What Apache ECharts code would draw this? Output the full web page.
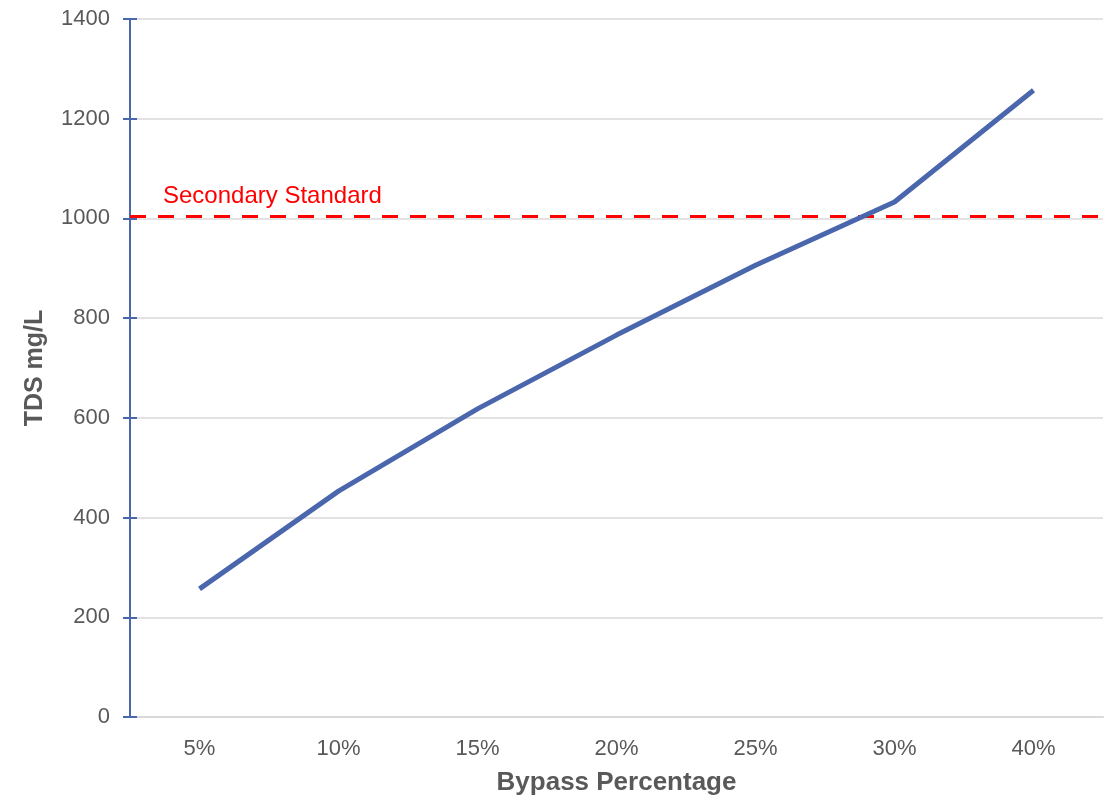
<!DOCTYPE html>
<html>
<head>
<meta charset="utf-8">
<script src="https://cdn.jsdelivr.net/npm/echarts@6/dist/echarts.min.js"></script>
<style>html,body{margin:0;padding:0;background:#fff;}#c{width:1113px;height:796px;}</style>
</head>
<body>
<div id="c"></div>
<script>
var categories = ['5%', '10%', '15%', '20%', '25%', '30%', '40%'];
var tdsValues = [257, 453, 618, 766, 906, 1033, 1257];
var standardValue = 1004;
var standardLabel = 'Secondary Standard';
var yTicks = [0, 200, 400, 600, 800, 1000, 1200, 1400];

var chart = echarts.init(document.getElementById('c'));
var gray = '#595959';
var ff = '"Liberation Sans", Arial';
chart.setOption({
  animation: false,
  backgroundColor: '#ffffff',
  grid: {left: 130, right: 10, top: 19, bottom: 79, containLabel: false, outerBoundsMode: 'none'},
  xAxis: [{
    type: 'category',
    data: categories,
    boundaryGap: true,
    name: 'Bypass Percentage',
    nameLocation: 'middle',
    nameGap: 53,
    nameTextStyle: {fontFamily: ff, fontSize: 26, fontWeight: 'bold', color: gray},
    axisLine: {lineStyle: {color: '#d9d9d9', width: 2}},
    axisTick: {inside: true, length: 7, lineStyle: {color: '#d9d9d9', width: 2}},
    axisLabel: {margin: 21, fontFamily: ff, fontSize: 22, color: gray},
    splitLine: {show: false}
  }, {
    type: 'category',
    data: categories,
    boundaryGap: true,
    position: 'bottom',
    axisLine: {show: false},
    axisTick: {inside: true, alignWithLabel: true, length: 5, lineStyle: {color: '#d9d9d9', width: 2}},
    axisLabel: {show: false},
    splitLine: {show: false}
  }],
  yAxis: [{
    type: 'value',
    min: yTicks[0],
    max: yTicks[yTicks.length - 1],
    interval: 200,
    name: 'TDS mg/L',
    nameLocation: 'middle',
    nameGap: 82,
    nameTextStyle: {fontFamily: ff, fontSize: 25, fontWeight: 'bold', color: gray},
    axisLine: {show: true, lineStyle: {color: '#4A66AC', width: 2}},
    axisTick: {show: true, length: 7, lineStyle: {color: '#4A66AC', width: 2}},
    axisLabel: {margin: 20, fontFamily: ff, fontSize: 22, color: gray, formatter: function (v) { return String(v); }},
    splitLine: {show: true, lineStyle: {color: '#d9d9d9', width: 1.5}}
  }, {
    type: 'value',
    min: yTicks[0],
    max: yTicks[yTicks.length - 1],
    interval: 200,
    position: 'left',
    axisLine: {show: false},
    axisTick: {show: true, inside: true, length: 7, lineStyle: {color: '#4A66AC', width: 2}},
    axisLabel: {show: false},
    splitLine: {show: false}
  }],
  series: [{
    type: 'line',
    data: tdsValues,
    showSymbol: false,
    symbol: 'none',
    lineStyle: {color: '#4A66AC', width: 5},
    z: 3,
    markLine: {
      silent: true,
      symbol: 'none',
      lineStyle: {color: '#ff0000', width: 3, type: [16, 12]},
      label: {show: false},
      data: [{yAxis: standardValue}],
      z: 2
    }
  }],
  graphic: [{
    type: 'text',
    left: 163,
    top: 184,
    style: {text: standardLabel, fill: '#ff0000', font: '24px "Liberation Sans", Arial'}
  }]
});
</script>
</body>
</html>
